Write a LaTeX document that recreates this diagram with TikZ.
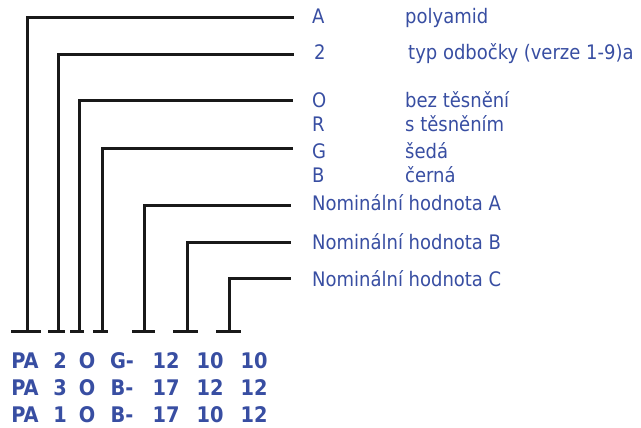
\documentclass[tikz,border=0pt]{standalone}
\usepackage{fontspec}
\setmainfont{DejaVu Sans Condensed}
\definecolor{codeblue}{RGB}{56,78,162}

\begin{document}
\begin{tikzpicture}[
    x=1pt, y=-1pt,
    lead/.style={draw=black!90, line width=3pt, line cap=butt},
    code/.style={text=codeblue, font=\fontsize{20}{20}\selectfont, inner sep=0pt,
                 text height=14.6pt, text depth=0pt, anchor=west},
    pick/.style={text=codeblue, font=\bfseries\fontsize{21.5}{21.5}\selectfont, inner sep=0pt,
                 text height=15.7pt, text depth=0pt}
]
    \useasboundingbox (0,0) rectangle (641,428);

    % Legend: codes
    \node[code] (kA) at (312,16) {A};
    \node[code] (k2) at (314,52) {2};
    \node[code] (kO) at (312,100) {O};
    \node[code] (kR) at (312,124) {R};
    \node[code] (kG) at (312,151) {G};
    \node[code] (kB) at (312,175) {B};
    \node[code] (nA) at (312,203) {Nominální hodnota A};
    \node[code] (nB) at (312,242) {Nominální hodnota B};
    \node[code] (nC) at (312,279) {Nominální hodnota C};

    % Legend: meanings
    \node[code] (dA) at (405,16) {polyamid};
    \node[code] (d2) at (408,52) {typ odbočky (verze 1-9)a};
    \node[code] (dO) at (405,100) {bez těsnění};
    \node[code] (dR) at (405,124) {s těsněním};
    \node[code] (dG) at (405,151) {šedá};
    \node[code] (dB) at (405,175) {černá};

    % Feet of the leads
    \foreach \x/\n in {27/1, 58/2, 79/3, 102/4, 144/5, 187/6, 229/7}
        \coordinate (f\n) at (\x,331);
    \draw[lead] (11,331) -- (41,331);
    \draw[lead] (48,331) -- (65,331);
    \draw[lead] (70,331) -- (84,331);
    \draw[lead] (93,331) -- (108,331);
    \draw[lead] (132,331) -- (155,331);
    \draw[lead] (173,331) -- (198,331);
    \draw[lead] (216,331) -- (241,331);

    % Leads
    \draw[lead, shorten >=18pt] (f1) |- ([yshift=-2pt]kA.west);
    \draw[lead, shorten >=20pt] (f2) |- ([yshift=-3pt]k2.west);
    \draw[lead, shorten >=19pt] (f3) |- ([yshift=-1pt]kO.west);
    \draw[lead, shorten >=19pt] (f4) |- ([yshift=2pt]kG.west);
    \draw[lead, shorten >=21pt] (f5) |- ([yshift=-2pt]nA.west);
    \draw[lead, shorten >=21pt] (f6) |- (nB.west);
    \draw[lead, shorten >=21pt] (f7) |- ([yshift=1pt]nC.west);

    % Examples
    \foreach \row [count=\r] in {{PA,2,O,G-,12,10,10},{PA,3,O,B-,17,12,12},{PA,1,O,B-,17,10,12}}
        \foreach \tok [count=\c] in \row {
            \pgfmathsetmacro{\px}{{25,60,87,122,166,210,254}[\c-1]}
            \node[pick] (e\r-\c) at (\px,334+27*\r) {\tok};
        }
\end{tikzpicture}
\end{document}
